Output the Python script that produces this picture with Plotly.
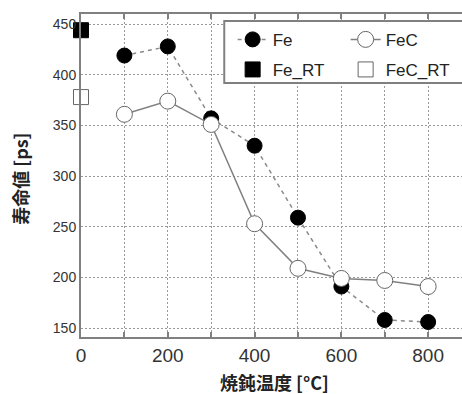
import plotly.graph_objects as go

temps = [100, 200, 300, 400, 500, 600, 700, 800]
fe = [419, 428, 357, 330, 259, 191, 158, 156]
fec = [361, 374, 351, 253, 209, 199, 197, 191]
rt_temp = [0]
fe_rt = [444]
fec_rt = [378]

x_tickvals = [0, 100, 200, 300, 400, 500, 600, 700, 800]
x_ticktext = ["0", "", "200", "", "400", "", "600", "", "800"]
y_tickvals = [150, 200, 250, 300, 350, 400, 450]

grey = "#808080"
fig = go.Figure()
fig.add_trace(go.Scatter(x=temps, y=fe, name="Fe", mode="lines+markers",
                         line=dict(color="#8a8a8a", width=1.5, dash="4px,4px"),
                         marker=dict(symbol="circle", size=15, color="black",
                                     line=dict(color="black", width=1)),
                         legend="legend"))
fig.add_trace(go.Scatter(x=temps, y=fec, name="FeC", mode="lines+markers",
                         line=dict(color=grey, width=1.5),
                         marker=dict(symbol="circle", size=16, color="white",
                                     line=dict(color="#666", width=1)),
                         legend="legend"))
fig.add_trace(go.Scatter(x=rt_temp, y=fe_rt, name="Fe_RT", mode="markers",
                         marker=dict(symbol="square", size=15, color="black",
                                     line=dict(color="black", width=1)),
                         cliponaxis=False, legend="legend2"))
fig.add_trace(go.Scatter(x=rt_temp, y=fec_rt, name="FeC_RT", mode="markers",
                         marker=dict(symbol="square", size=15, color="white",
                                     line=dict(color="#666", width=1)),
                         cliponaxis=False, legend="legend2"))

leg_common = dict(orientation="h", entrywidth=68, entrywidthmode="pixels",
                  bgcolor="rgba(0,0,0,0)", borderwidth=0,
                  font=dict(family="Liberation Sans, Arial", size=17, color="#222"),
                  xanchor="left", yanchor="middle", x=0.398)

fig.update_layout(
    width=462, height=394,
    margin=dict(l=81, r=0, t=14, b=57, autoexpand=False),
    paper_bgcolor="white", plot_bgcolor="white",
    showlegend=True,
    legend=dict(**leg_common, y=0.92),
    legend2=dict(**leg_common, y=0.827),
    xaxis=dict(range=[0, 878], tickvals=x_tickvals, ticktext=x_ticktext,
               ticks="inside", ticklen=5, tickcolor=grey, tickwidth=1.5,
               showline=True, linecolor=grey, linewidth=2, mirror="ticks",
               showgrid=True, gridcolor="#999", griddash="1.5px,2.5px", gridwidth=1.2,
               zeroline=False, automargin=False,
               tickfont=dict(family="Liberation Sans, Arial", size=19, color="#333")),
    yaxis=dict(range=[141.2, 460], tickvals=y_tickvals,
               ticks="", showline=True, linecolor=grey, linewidth=2,
               showgrid=True, gridcolor="#999", griddash="1.5px,2.5px", gridwidth=1.2,
               zeroline=False, automargin=False,
               tickfont=dict(family="Liberation Sans, Arial", size=14, color="#333")),
    shapes=[dict(type="rect", xref="paper", yref="paper",
                 x0=0.376, x1=1.05, y0=0.786, y1=0.978,
                 line=dict(color=grey, width=2), fillcolor="white", layer="above")],
    annotations=[
        dict(text="焼鈍温度 [°C]", xref="paper", yref="paper", x=0.508, y=-0.139,
             xanchor="center", yanchor="middle", showarrow=False,
             font=dict(family="Noto Sans CJK JP", size=18, color="#222", weight="bold")),
        dict(text="寿命値 [ps]", xref="paper", yref="paper", x=-0.161, y=0.489,
             xanchor="center", yanchor="middle", showarrow=False, textangle=-90,
             font=dict(family="Noto Sans CJK JP", size=18, color="#222", weight="bold")),
    ],
)

fig.write_html("out.html", config={"displayModeBar": False},
               post_script="document.body.style.margin='0';document.body.style.overflow='hidden';")
